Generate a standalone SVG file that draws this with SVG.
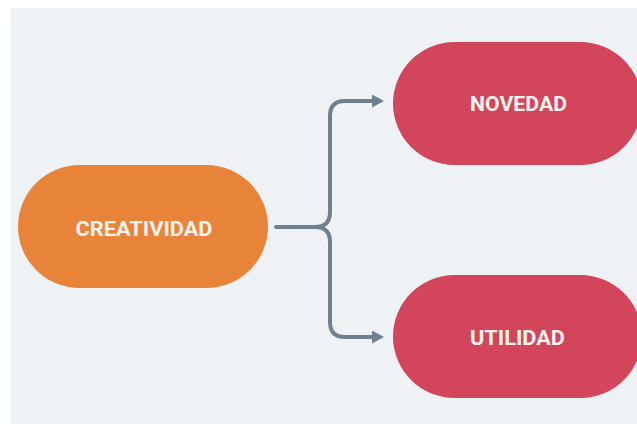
<svg xmlns="http://www.w3.org/2000/svg" width="637" height="424" viewBox="0 0 637 424">
  <defs>
    <style>
      .pill-orange { fill: #e8843a; }
      .pill-red { fill: #d2455a; }
      .label { font-family: Roboto, "Liberation Sans", sans-serif; font-weight: 700; font-size: 21px; fill: #fdf3ee; text-anchor: middle; dominant-baseline: central; }
      .link { fill: none; stroke: #6f8090; stroke-width: 4; stroke-linecap: round; stroke-linejoin: round; }
    </style>
    <marker id="arrow" viewBox="0 0 12 13" refX="4" refY="6.5" markerWidth="12" markerHeight="13" markerUnits="userSpaceOnUse" orient="auto">
      <path d="M0,0 L12,6.5 L0,13 Z" fill="#6f8090"/>
    </marker>
  </defs>

  <!-- canvas -->
  <rect x="0" y="0" width="637" height="424" fill="#ffffff"/>
  <rect x="11" y="8" width="626" height="416" fill="#eff2f5"/>

  <!-- brace connectors -->
  <g id="connectors">
    <path class="link" d="M276,227 H315 Q330,227 330,212 V116 Q330,101 345,101 H376" marker-end="url(#arrow)"/>
    <path class="link" d="M315,227 Q330,227 330,242 V322 Q330,337 345,337 H376" marker-end="url(#arrow)"/>
  </g>

  <g id="creatividad">
    <rect class="pill-orange" x="18" y="165" width="250" height="123" rx="61.5"/>
    <text class="label" x="144" y="229" textLength="137" lengthAdjust="spacingAndGlyphs">CREATIVIDAD</text>
  </g>

  <g id="novedad">
    <rect class="pill-red" x="393" y="42" width="249" height="123" rx="61.5"/>
    <text class="label" x="518.5" y="104" textLength="97" lengthAdjust="spacingAndGlyphs">NOVEDAD</text>
  </g>

  <g id="utilidad">
    <rect class="pill-red" x="393" y="275" width="249" height="123" rx="61.5"/>
    <text class="label" x="517.5" y="338" textLength="95" lengthAdjust="spacingAndGlyphs">UTILIDAD</text>
  </g>
</svg>
